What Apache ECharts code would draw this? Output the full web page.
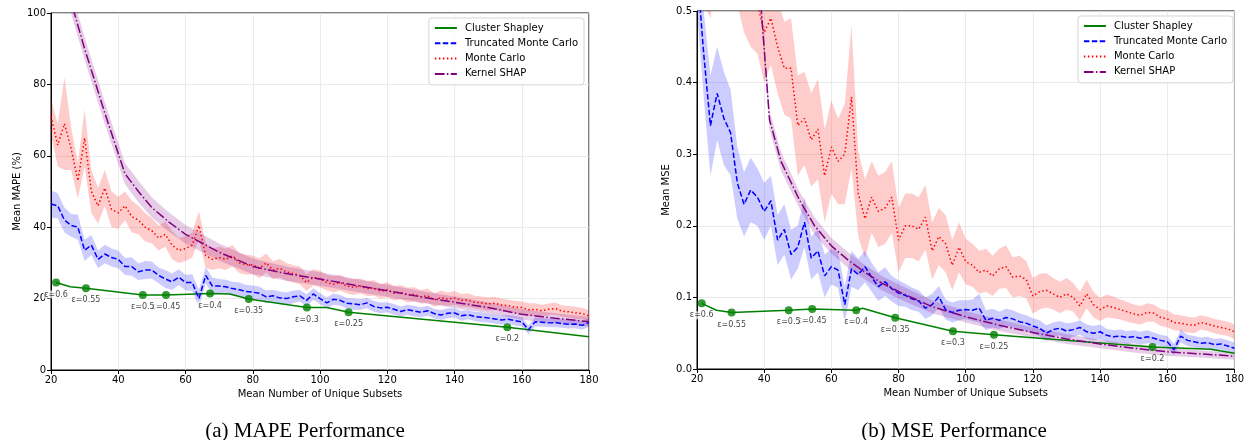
<!DOCTYPE html>
<html><head><meta charset="utf-8">
<script src="https://cdn.jsdelivr.net/npm/echarts@6/dist/echarts.min.js"></script>
<style>html,body{margin:0;padding:0;background:#fff}#c{width:1247px;height:440px}</style>
</head><body><div id="c"></div>
<script>
// ---------- shared x sample positions (Mean Number of Unique Subsets) ----------
const xs = [20,22,24,26,28,30,32,34,36,38,40,42,44,46,48,50,52,54,56,58,60,62,64,66,68,70,72,74,76,78,80,82,84,86,88,90,92,94,96,98,100,102,104,106,108,110,112,114,116,118,120,122,124,126,128,130,132,134,136,138,140,142,144,146,148,150,152,154,156,158,160,162,164,166,168,170,172,174,176,178,180];

const seriesNames = ['Cluster Shapley','Truncated Monte Carlo','Monte Carlo','Kernel SHAP'];
const xTicks = [20,40,60,80,100,120,140,160,180];

// ---------- (a) MAPE ----------
const mapeTMC = [46.5,46,42,40.5,40,33.5,35,31,32.5,31.5, 31,29,29,27.5,28,28,26.5,25.5,24.7,26, 24.5,24.5,20,26.5,23.5,23.5,23.3,22.8,22.5,22, 21.8,21.5,20.5,20.8,20.2,20,20.5,20.8,19.5,21.3, 20,18.8,19.8,19.5,18.7,18.5,18.3,18.8,17.8,17.4, 17.6,17,16.4,16.9,16.5,16.2,16.6,15.8,15.4,15.9, 16,15.2,15.5,15,14.8,14.6,14.3,14,14.2,13.8, 13.5,11.3,13.5,13.4,13.2,13.3,13,12.8,12.9,12.5, 13.3];
const mapeTMCSpread = [3.8,3.5,3.5,3.2,3.5, 3,2.8,2.5,2.6,2.5,2.5,2.4,2.6,2.3,2.5,2.4,2.2,2.5,2.3,2.2, 2.2,2.3,2.5,2.2,2.4,2,2,1.9,2,1.8,1.9,1.8,1.8,1.7,1.8,1.7,1.8,1.6,1.7,1.6, 1.6,1.5,1.6,1.5,1.5,1.6,1.5,1.4,1.5,1.5,1.4,1.5,1.4,1.4,1.5,1.4,1.4,1.3,1.4,1.4,1.3,1.4,1.3,1.3,1.4,1.3,1.3,1.3,1.2,1.3,1.3,1.2,1.3,1.2,1.2,1.3,1.2,1.2,1.2,1.2,1.2];
const mapeMC = [71,63,69,62,53,65,50,46,51,45, 44,46,43,42,40,39,37,38,35,33.5, 34,35,40.5,32,31,31.5,31,32,30,29.5, 29.5,28.5,30,28,28.5,27.5,27,26.5,24.5,26, 25.5,24.5,24,24.5,23.5,23.2,23.5,22.8,23,22, 22.5,21.5,21.8,21,21.2,20.5,20.8,19.6,20.3,19.8, 20.2,19.5,19.6,19,18.8,18.5,18.7,18.2,18,17.6, 17.5,16.9,17,16.6,17,17.2,16.5,16.3,16,15.8, 15.2];
const mapeMCSpread = [5,6,13,6,5, 8,6,5,5,5,4.5,4,4.5,4,4,3.5,3.5,3.5,4,3.5, 3.5,3.5,4,3.5,3,3,3,3,2.8,2.8,2.6,2.8,2.6,2.5,2.6,2.5,2.4,2.5,2.4,2.3, 2.3,2.2,2.3,2.2,2.1,2.2,2.1,2.1,2.2,2,2.1,2,2,2.1,2,1.9,2,1.9,2,1.9,1.9,1.8,1.9,1.8,1.8,1.9,1.8,1.8,1.7,1.8,1.7,1.8,1.7,1.7,1.6,1.7,1.6,1.6,1.7,1.6,1.6];
const mapeKSx = [20,26,30,36,42,46,50,55,60,65,70,75,80,90,100,110,120,130,140,150,160,170,180];
const mapeKS = [118,103,90,72,55,50,45.5,41.5,38,35.5,33,31,29,27,25.5,23.8,22.2,20.5,19,17.5,15.6,14.5,13.5];
const mapeKSSpread = [3.2,3.2,3.2,3,3,3,2.8,2.7,2.6,2.5,2.4,2.3,2.2,2,1.9,1.8,1.7,1.6,1.6,1.5,1.5,1.4,1.4];
const mapeCSx = [21.5,25.7,30.4,47.3,54.2,67.3,73.2,78.8,96.1,102,108.5,155.7,180];
const mapeCS = [24.5,23.3,22.9,21,21,21.4,21.3,19.9,17.5,17.5,16.2,12,9.3];
const mapeCSEps = ['ε=0.6','','ε=0.55','ε=0.5','ε=0.45','ε=0.4','','ε=0.35','ε=0.3','','ε=0.25','ε=0.2',''];
const mapeYTicks = [0,20,40,60,80,100];

// ---------- (b) MSE ----------
const mseTMC = [0.56,0.44,0.34,0.385,0.35,0.33,0.26,0.23,0.25,0.24, 0.22,0.235,0.18,0.195,0.16,0.17,0.205,0.155,0.165,0.13, 0.143,0.138,0.09,0.14,0.132,0.143,0.128,0.115,0.122,0.112, 0.106,0.103,0.098,0.095,0.085,0.09,0.101,0.083,0.079,0.082, 0.083,0.082,0.085,0.068,0.071,0.068,0.072,0.07,0.066,0.064, 0.06,0.057,0.05,0.055,0.057,0.053,0.055,0.058,0.052,0.05, 0.052,0.047,0.045,0.046,0.044,0.045,0.043,0.045,0.043,0.04, 0.038,0.027,0.046,0.04,0.038,0.036,0.037,0.034,0.035,0.032, 0.029];
const mseTMCSpread = [0.06,0.06,0.07,0.065,0.065,0.06,0.05,0.045,0.045,0.04, 0.04,0.035,0.035,0.035,0.035,0.03,0.035,0.03,0.03,0.03, 0.025,0.025,0.025,0.025,0.022,0.022,0.02,0.02,0.02,0.018, 0.018,0.016,0.016,0.015,0.015,0.015,0.015,0.014,0.014,0.014, 0.013,0.015,0.02,0.014,0.013,0.012,0.012,0.012,0.012,0.011, 0.011,0.011,0.011,0.01,0.01,0.011,0.01,0.01,0.01,0.01, 0.01,0.009,0.009,0.009,0.009,0.009,0.009,0.009,0.008,0.008, 0.008,0.008,0.009,0.008,0.008,0.008,0.008,0.008,0.008,0.008, 0.008];
const mseMC = [0.62,0.58,0.56,0.62,0.57,0.6,0.58,0.55,0.53,0.51, 0.47,0.49,0.45,0.42,0.42,0.34,0.35,0.32,0.335,0.27, 0.31,0.29,0.3,0.38,0.245,0.21,0.24,0.22,0.225,0.24, 0.18,0.2,0.2,0.195,0.212,0.165,0.185,0.175,0.145,0.17, 0.15,0.145,0.135,0.138,0.13,0.14,0.143,0.128,0.13,0.125, 0.102,0.108,0.11,0.105,0.1,0.105,0.1,0.088,0.105,0.09, 0.083,0.088,0.086,0.083,0.08,0.077,0.075,0.079,0.078,0.072, 0.07,0.065,0.064,0.062,0.061,0.065,0.063,0.06,0.058,0.056, 0.052];
const mseMCSpread = [0.07,0.07,0.07,0.06,0.06,0.07,0.07,0.08,0.08,0.07, 0.07,0.065,0.065,0.065,0.07,0.07,0.065,0.065,0.07,0.065, 0.065,0.06,0.07,0.1,0.06,0.055,0.05,0.05,0.05,0.05, 0.045,0.045,0.045,0.045,0.045,0.04,0.04,0.04,0.035,0.035, 0.032,0.03,0.03,0.03,0.028,0.028,0.03,0.028,0.028,0.026, 0.025,0.025,0.024,0.022,0.022,0.022,0.02,0.02,0.02,0.018, 0.016,0.016,0.015,0.014,0.014,0.013,0.013,0.013,0.012,0.012, 0.012,0.011,0.011,0.011,0.011,0.01,0.01,0.01,0.01,0.01, 0.01];
const mseKSx = [37,39.2,41.6,45,50.5,55,60,65,70,75,81,90,100,110,120,130,140,150,160,170,180];
const mseKS = [0.62,0.497,0.348,0.29,0.236,0.2,0.172,0.152,0.135,0.12,0.106,0.087,0.073,0.061,0.051,0.042,0.035,0.029,0.024,0.021,0.018];
const mseKSSpread = [0.014,0.014,0.013,0.013,0.012,0.012,0.011,0.011,0.01,0.01,0.01,0.009,0.008,0.008,0.007,0.007,0.006,0.006,0.006,0.005,0.005];
const mseCSx = [21.4,25.8,30.3,47.3,54.3,67.4,69.3,79,96.2,108.4,155.6,172.9,180];
const mseCS = [0.0917,0.082,0.079,0.082,0.0838,0.082,0.0848,0.0717,0.0526,0.048,0.0307,0.0275,0.0219];
const mseCSEps = ['ε=0.6','','ε=0.55','ε=0.5','ε=0.45','ε=0.4','','ε=0.35','ε=0.3','ε=0.25','ε=0.2','',''];
const mseYTicks = [0,0.1,0.2,0.3,0.4,0.5];

// ---------- styling ----------
const FONT = 'DejaVu Sans';
const lineColors = {cs:'#008000', tmc:'#0000ff', mc:'#ff0000', ks:'#800080'};
const bandColors = {tmc:'rgba(0,0,255,0.2)', mc:'rgba(255,0,0,0.2)', ks:'rgba(128,0,128,0.2)'};

// Shaded band (mean ± spread) as one polygon, positioned through the axes (api.coord)
function band(id, g, bx, mean, spread, color) {
  const data = bx.map((x, i) => [x, mean[i] - spread[i], mean[i] + spread[i]]);
  return {type:'custom', name:id, xAxisIndex:g, yAxisIndex:g, data:data, silent:true, z:1,
    encode:{x:0, y:[1,2]},
    renderItem:function (params, api) {
      if (params.dataIndex !== 0) return null;
      const upper = data.map(d => api.coord([d[0], d[2]]));
      const lower = data.map(d => api.coord([d[0], d[1]])).reverse();
      const cs = params.coordSys;
      return {type:'polygon', shape:{points:upper.concat(lower)}, style:{fill:color},
        clipPath:{type:'rect', shape:{x:cs.x, y:cs.y, width:cs.width, height:cs.height}}};
    }};
}
function line(name, g, lx, ly, color, type) {
  return {type:'line', name:name, xAxisIndex:g, yAxisIndex:g, data:lx.map((x,i)=>[x, ly[i]]),
    symbol:'none', showSymbol:false, lineStyle:{color:color, width:1.5, type:type}, itemStyle:{color:color}, z:3};
}
function epsPoints(g, cx, cy, eps) {
  const pts = [];
  cx.forEach((x, i) => { if (eps[i]) pts.push([x, cy[i], eps[i]]); });
  pts.reverse();
  return {type:'scatter', name:'eps'+g, xAxisIndex:g, yAxisIndex:g, data:pts, symbolSize:8,
    itemStyle:{color:'#008000'}, z:4,
    label:{show:true, position:'bottom', distance:4, formatter:p=>p.data[2], fontSize:8, fontFamily:FONT,
      color:'#111', backgroundColor:'rgba(255,255,255,0.85)', padding:[0,1]}};
}
function chartSeries(g, d) {
  return [
    band('mcband'+g, g, xs, d.mc, d.mcS, bandColors.mc),
    band('tmcband'+g, g, xs, d.tmc, d.tmcS, bandColors.tmc),
    band('ksband'+g, g, d.ksx, d.ks, d.ksS, bandColors.ks),
    line(seriesNames[0], g, d.csx, d.cs, lineColors.cs, 'solid'),
    line(seriesNames[1], g, xs, d.tmc, lineColors.tmc, [5.5,2.4]),
    line(seriesNames[2], g, xs, d.mc, lineColors.mc, [1.5,2.5]),
    line(seriesNames[3], g, d.ksx, d.ks, lineColors.ks, [9.6,2.4,1.5,2.4]),
    epsPoints(g, d.csx, d.cs, d.eps)
  ];
}
const axisCommon = {
  axisLine:{show:true, onZero:false, lineStyle:{color:'#000', width:1}},
  axisTick:{show:true, inside:false, length:4, lineStyle:{color:'#000'}},
  axisLabel:{color:'#000', fontSize:10, fontFamily:FONT, margin:5},
  splitLine:{show:true, lineStyle:{color:'#e6e6e6', width:0.8}},
  nameTextStyle:{color:'#000', fontSize:10, fontFamily:FONT},
  nameLocation:'middle'
};
function xAxis(g) {
  return Object.assign({}, axisCommon, {type:'value', gridIndex:g, min:xTicks[0], max:xTicks[xTicks.length-1],
    interval:xTicks[1]-xTicks[0], name:'Mean Number of Unique Subsets', nameGap:16});
}
function yAxis(g, ticks, name, gap, fmt) {
  return Object.assign({}, axisCommon, {type:'value', gridIndex:g, min:ticks[0], max:ticks[ticks.length-1],
    interval:ticks[1]-ticks[0], name:name, nameGap:gap,
    axisLabel:Object.assign({}, axisCommon.axisLabel, {formatter:fmt})});
}
function legend(right, top) {
  return {data:seriesNames, orient:'vertical', right:right, top:top, itemWidth:22, itemHeight:10, itemGap:5.3,
    padding:[5,6,6,5], backgroundColor:'rgba(255,255,255,0.8)', borderColor:'#d5d5d5', borderWidth:1, borderRadius:3,
    selectedMode:false, itemStyle:{opacity:0},
    textStyle:{fontSize:10, fontFamily:FONT, color:'#000', padding:[0,0,0,3]}};
}

const chart = echarts.init(document.getElementById('c'), null, {renderer:'canvas'});
chart.setOption({
  animation:false,
  backgroundColor:'#fff',
  grid:[
    {left:51, right:658, top:13, bottom:70, show:true, borderColor:'#000', borderWidth:1, backgroundColor:'transparent'},
    {left:697, right:10, top:11, bottom:71, show:true, borderColor:'#000', borderWidth:1, backgroundColor:'transparent'}
  ],
  xAxis:[xAxis(0), xAxis(1)],
  yAxis:[yAxis(0, mapeYTicks, 'Mean MAPE (%)', 29, v=>String(v)),
         yAxis(1, mseYTicks, 'Mean MSE', 26, v=>v.toFixed(1))],
  legend:[legend(663, 18), legend(14, 16)],
  graphic:[
    {type:'text', x:305, y:431, style:{text:'(a) MAPE Performance', font:'21px "Liberation Serif"', fill:'#000', align:'center', verticalAlign:'middle'}},
    {type:'text', x:954, y:431, style:{text:'(b) MSE Performance', font:'21px "Liberation Serif"', fill:'#000', align:'center', verticalAlign:'middle'}}
  ],
  series:[].concat(
    chartSeries(0, {tmc:mapeTMC, tmcS:mapeTMCSpread, mc:mapeMC, mcS:mapeMCSpread, ksx:mapeKSx, ks:mapeKS, ksS:mapeKSSpread, csx:mapeCSx, cs:mapeCS, eps:mapeCSEps}),
    chartSeries(1, {tmc:mseTMC, tmcS:mseTMCSpread, mc:mseMC, mcS:mseMCSpread, ksx:mseKSx, ks:mseKS, ksS:mseKSSpread, csx:mseCSx, cs:mseCS, eps:mseCSEps})
  )
});
</script></body></html>
